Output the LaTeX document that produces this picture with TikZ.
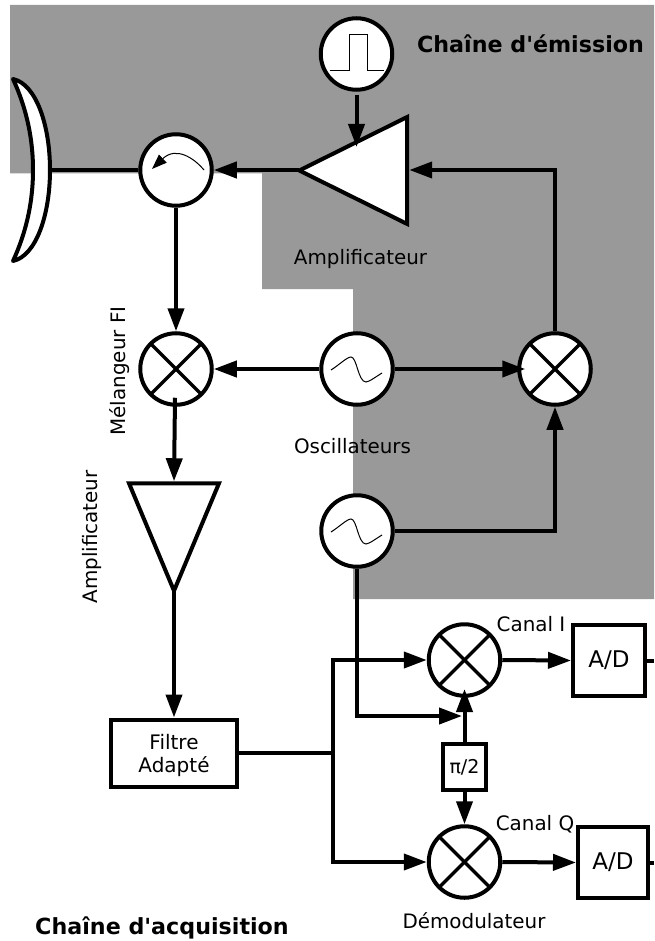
\documentclass[tikz,border=0pt]{standalone}
\usepackage{xcolor}
\usepackage{fontspec}
\setmainfont{DejaVu Sans}[Ligatures=TeXOff]
\definecolor{zonegray}{RGB}{153, 153, 153}
\usetikzlibrary{shapes.geometric, arrows.meta, positioning, calc}

\begin{document}
\begin{tikzpicture}[
    x=1pt, y=-1pt,
    circnode/.style={circle, draw=black, fill=white, line width=4pt,
                minimum size=71.5pt, inner sep=0pt},
    mixer/.style={circnode, path picture={
                \draw[line width=3.5pt] (path picture bounding box.north west) -- (path picture bounding box.south east);
                \draw[line width=3.5pt] (path picture bounding box.north east) -- (path picture bounding box.south west);}},
    oscil/.style={circnode, path picture={
                \draw[line width=1pt, shift={(path picture bounding box.center)}]
                    (-26,1) .. controls (-18,-4) and (-10,-12) .. (-6,-12)
                    .. controls (0,-12) and (1,13) .. (9,13) .. controls (12,13) and (20,7) .. (25,4);}},
    pulsegen/.style={circnode, path picture={
                \draw[line width=1pt, shift={(path picture bounding box.center)}]
                    (-26.5,17) -- (-7.5,17) -- (-7.5,-19) -- (10.5,-19) -- (10.5,17) -- (27.5,17);}},
    circul/.style={circnode, path picture={
                \draw[line width=1pt, -{Triangle[length=15pt, width=11pt]}, shift={(path picture bounding box.center)}]
                    (28,0) .. controls (18,-12) and (0,-24) .. (-24,-1);}},
    ampli/.style={isosceles triangle, isosceles triangle stretches, draw=black, fill=white,
                line width=4pt, inner sep=0pt},
    block/.style={rectangle, draw=black, fill=white, line width=4pt, align=center, inner sep=0pt},
    lbl/.style={font=\fontsize{19.9}{24}\selectfont, inner sep=0pt},
    title/.style={font=\fontsize{22.2}{26}\selectfont\bfseries, inner sep=0pt},
    wire/.style={line width=4pt, line cap=butt},
    arrow/.style={-{Triangle[length=23pt, width=16pt]}, line width=4pt}
]
    \useasboundingbox (0,0) rectangle (654,941);
    \fill[white] (0,0) rectangle (654,941);
    \fill[zonegray] (10,5) -- (654,5) -- (654,599) -- (353,599) -- (353,289) -- (262,289) -- (262,173.5) -- (10,173.5) -- cycle;

    \node[circul] (circ) at (176,170) {};
    \node[pulsegen] (pulse) at (356.5,54) {};
    \node[ampli, shape border rotate=180, minimum width=107pt, minimum height=108pt, anchor=apex] (amp) at (294,170.5) {};
    \node[mixer, below=123.5pt of circ] (mixfi) {};
    \node[oscil, right=105.5pt of mixfi] (osca) {};
    \node[mixer, right=122.5pt of osca] (mixup) {};
    \node[oscil, below=86.5pt of osca] (oscb) {};
    \node[ampli, shape border rotate=270, minimum width=90pt, minimum height=107.5pt, anchor=apex] (ampfi) at (174,596) {};
    \node[block, minimum width=126pt, minimum height=67pt, text depth=0pt, font=\fontsize{20}{23}\selectfont] (filtre) at (174,753) {Filtre\\Adapté};
    \node[mixer] (mixi) at (464.5,660) {};
    \node[mixer, below=126.5pt of mixi] (mixq) {};
    \node[block, minimum width=72pt, minimum height=71pt, font=\fontsize{23}{27}\selectfont] (adi) at (609,660.5) {A/D};
    \node[block, minimum width=70pt, minimum height=71pt, font=\fontsize{23}{27}\selectfont] (adq) at (613,862.5) {A/D};
    \node[block, minimum width=43pt, minimum height=46pt, font=\fontsize{19}{23}\selectfont] (dephase) at (464.5,767) {π/2};

    \draw[line width=4pt, fill=white, line join=round] (13,79) .. controls (36,84) and (50,125) .. (50,170)
        .. controls (50,215) and (36,256) .. (13,261) .. controls (25,235) and (33,205) .. (33,170)
        .. controls (33,135) and (25,105) .. (13,79) -- cycle;

    \coordinate (dish) at (50,170);
    \coordinate (ampin) at (356.5,147);
    \coordinate (split) at (333,753);
    \coordinate (oscin) at (462,716);
    \coordinate (mixin) at (464.5,689);
    \coordinate (outi) at (654,660.5);
    \coordinate (outq) at (654,862.5);

    \draw[wire] (circ.west) -- (dish);
    \draw[arrow] (pulse.south) ++(0,3) -- (ampin);
    \draw[arrow, shorten <=-5pt] (amp.apex |- circ.east) -- (circ.east);
    \draw[arrow] (circ.south) -- (mixfi.north);
    \draw[arrow] (osca.west) -- (mixfi.east);
    \draw[arrow] (osca.east) -- ($(mixup.west)+(8,0)$);
    \draw[arrow] (mixup.north) |- (amp.north east |- circ.east);
    \draw[arrow] (oscb.east) -| (mixup.south);
    \draw[arrow] ($(mixfi.south)+(-1,-9)$) -- (ampfi.north);
    \draw[arrow, shorten <=-5pt] (ampfi.apex) -- (filtre.north);
    \draw[wire] (filtre.east) -- (split);
    \draw[arrow] (split) |- (mixi.west);
    \draw[arrow] (split) |- (mixq.west);
    \draw[arrow] (oscb.south) |- (oscin);
    \draw[arrow] (dephase.north) -- (mixin);
    \draw[arrow] (dephase.south) -- (mixq.north);
    \draw[arrow] (mixi.east) -- (adi.west);
    \draw[arrow] (mixq.east) -- (adq.west);
    \draw[wire] (adi.east) -- (outi);
    \draw[wire] (adq.east) -- (outq);

    \node[title] (emission) at (530.5,44) {Chaîne d'émission};
    \node[title] (acquisition) at (162,928) {Chaîne d'acquisition};
    \node[lbl] (lblamp) at (360.5,259) {Amplificateur};
    \node[lbl] (lblosc) at (352.5,446) {Oscillateurs};
    \node[lbl, rotate=90] (lblmix) at (120,371) {Mélangeur FI};
    \node[lbl, rotate=90] (lblampfi) at (92.5,537) {Amplificateur};
    \node[lbl] (lblcani) at (531,624) {Canal I};
    \node[lbl] (lblcanq) at (535,824) {Canal Q};
    \node[lbl] (lbldemod) at (474,921) {Démodulateur};
\end{tikzpicture}
\end{document}
